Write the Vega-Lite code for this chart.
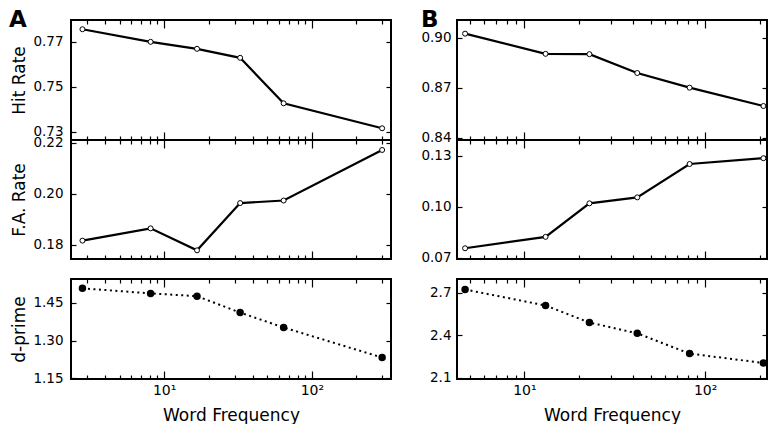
{
  "$schema": "https://vega.github.io/schema/vega-lite/v6.json",
  "padding": {"left": 7, "top": 8, "right": 0, "bottom": 0},
  "background": "white",
  "data": {"values": [
    {"panel": "A", "freq": 2.8, "hit": 0.7755, "fa": 0.1817, "dprime": 1.507},
    {"panel": "A", "freq": 8.1, "hit": 0.7699, "fa": 0.1865, "dprime": 1.487},
    {"panel": "A", "freq": 16.7, "hit": 0.7668, "fa": 0.1779, "dprime": 1.476},
    {"panel": "A", "freq": 32.7, "hit": 0.7628, "fa": 0.1964, "dprime": 1.411},
    {"panel": "A", "freq": 64.4, "hit": 0.7426, "fa": 0.1974, "dprime": 1.352},
    {"panel": "A", "freq": 299, "hit": 0.7315, "fa": 0.2172, "dprime": 1.233},
    {"panel": "B", "freq": 4.7, "hit": 0.9024, "fa": 0.0756, "dprime": 2.723},
    {"panel": "B", "freq": 13.1, "hit": 0.8903, "fa": 0.0823, "dprime": 2.61},
    {"panel": "B", "freq": 22.9, "hit": 0.8901, "fa": 0.102, "dprime": 2.49},
    {"panel": "B", "freq": 42.1, "hit": 0.8788, "fa": 0.1055, "dprime": 2.414},
    {"panel": "B", "freq": 82, "hit": 0.870, "fa": 0.1251, "dprime": 2.271},
    {"panel": "B", "freq": 210, "hit": 0.859, "fa": 0.1285, "dprime": 2.205}
  ]},
  "spacing": 26,
  "hconcat": [
    {
      "spacing": 16,
      "vconcat": [
        {
          "bounds": "flush",
          "spacing": 0,
          "vconcat": [
            {
              "width": 320, "height": 120,
              "title": {"text": "A", "anchor": "start", "frame": "bounds", "fontSize": 23, "fontWeight": "bold", "font": "DejaVu Sans", "color": "black", "offset": -31, "baseline": "alphabetic", "dx": -2},
              "transform": [{"filter": "datum.panel == 'A'"}],
              "resolve": {"axis": {"x": "independent", "y": "independent"}},
              "layer": [
                {"mark": {"type": "line", "color": "black", "strokeWidth": 2.2},
                 "encoding": {
                   "x": {"field": "freq", "type": "quantitative", "scale": {"type": "log", "domain": [2.342, 343.3], "nice": false},
                         "axis": {"orient": "bottom", "values": [3,4,5,6,7,8,9,10,20,30,40,50,60,70,80,90,100,200,300], "labels": false, "title": null, "tickSize": {"condition": {"test": "datum.value == 10 || datum.value == 100", "value": -8}, "value": -4}}},
                   "y": {"field": "hit", "type": "quantitative", "scale": {"domain": [0.7263, 0.7796], "nice": false, "zero": false},
                         "axis": {"orient": "left", "values": [0.73, 0.75, 0.77], "format": ".2f", "title": "Hit Rate", "tickSize": -5, "labelPadding": 13, "titlePadding": 4}}}},
                {"mark": {"type": "point", "filled": true, "fill": "white", "stroke": "black", "strokeWidth": 1, "size": 25, "opacity": 1},
                 "encoding": {
                   "x": {"field": "freq", "type": "quantitative", "scale": {"type": "log", "domain": [2.342, 343.3], "nice": false},
                         "axis": {"orient": "top", "values": [3,4,5,6,7,8,9,10,20,30,40,50,60,70,80,90,100,200,300], "labels": false, "title": null, "tickSize": {"condition": {"test": "datum.value == 10 || datum.value == 100", "value": -8}, "value": -4}}},
                   "y": {"field": "hit", "type": "quantitative", "scale": {"domain": [0.7263, 0.7796], "nice": false, "zero": false},
                         "axis": {"orient": "right", "values": [0.73, 0.75, 0.77], "labels": false, "title": null, "tickSize": -5}}}}
              ]
            },
            {
              "width": 320, "height": 119,
              "transform": [{"filter": "datum.panel == 'A'"}],
              "resolve": {"axis": {"x": "independent", "y": "independent"}},
              "layer": [
                {"mark": {"type": "line", "color": "black", "strokeWidth": 2.2},
                 "encoding": {
                   "x": {"field": "freq", "type": "quantitative", "scale": {"type": "log", "domain": [2.342, 343.3], "nice": false},
                         "axis": {"orient": "bottom", "values": [3,4,5,6,7,8,9,10,20,30,40,50,60,70,80,90,100,200,300], "labels": false, "title": null, "tickSize": {"condition": {"test": "datum.value == 10 || datum.value == 100", "value": -8}, "value": -4}}},
                   "y": {"field": "fa", "type": "quantitative", "scale": {"domain": [0.1745, 0.2211], "nice": false, "zero": false},
                         "axis": {"orient": "left", "values": [0.18, 0.20, 0.22], "format": ".2f", "title": "F.A. Rate", "tickSize": -5, "labelPadding": 13, "titlePadding": 4}}}},
                {"mark": {"type": "point", "filled": true, "fill": "white", "stroke": "black", "strokeWidth": 1, "size": 25, "opacity": 1},
                 "encoding": {
                   "x": {"field": "freq", "type": "quantitative", "scale": {"type": "log", "domain": [2.342, 343.3], "nice": false},
                         "axis": {"orient": "top", "values": [3,4,5,6,7,8,9,10,20,30,40,50,60,70,80,90,100,200,300], "labels": false, "title": null, "tickSize": {"condition": {"test": "datum.value == 10 || datum.value == 100", "value": -8}, "value": -4}}},
                   "y": {"field": "fa", "type": "quantitative", "scale": {"domain": [0.1745, 0.2211], "nice": false, "zero": false},
                         "axis": {"orient": "right", "values": [0.18, 0.20, 0.22], "labels": false, "title": null, "tickSize": -5}}}}
              ]
            }
          ]
        },
        {
          "width": 320, "height": 100,
          "transform": [{"filter": "datum.panel == 'A'"}],
          "resolve": {"axis": {"x": "independent", "y": "independent"}},
          "layer": [
            {"mark": {"type": "line", "color": "black", "strokeWidth": 2, "strokeDash": [2, 3.5]},
             "encoding": {
               "x": {"field": "freq", "type": "quantitative", "scale": {"type": "log", "domain": [2.342, 343.3], "nice": false},
                     "axis": {"orient": "bottom", "values": [3,4,5,6,7,8,9,10,20,30,40,50,60,70,80,90,100,200,300], "labelExpr": "datum.value == 10 ? '10¹' : datum.value == 100 ? '10²' : ''", "labelOverlap": false, "labelFlush": false, "labelPadding": 12, "labelFontSize": 14, "title": "Word Frequency", "titlePadding": 6, "tickSize": {"condition": {"test": "datum.value == 10 || datum.value == 100", "value": -8}, "value": -4}}},
               "y": {"field": "dprime", "type": "quantitative", "scale": {"domain": [1.148, 1.544], "nice": false, "zero": false},
                     "axis": {"orient": "left", "values": [1.15, 1.30, 1.45], "format": ".2f", "title": "d-prime", "tickSize": -5, "labelPadding": 13, "titlePadding": 4}}}},
            {"mark": {"type": "point", "filled": true, "fill": "black", "stroke": "black", "size": 30, "opacity": 1},
             "encoding": {
               "x": {"field": "freq", "type": "quantitative", "scale": {"type": "log", "domain": [2.342, 343.3], "nice": false},
                     "axis": {"orient": "top", "values": [3,4,5,6,7,8,9,10,20,30,40,50,60,70,80,90,100,200,300], "labels": false, "title": null, "tickSize": {"condition": {"test": "datum.value == 10 || datum.value == 100", "value": -8}, "value": -4}}},
               "y": {"field": "dprime", "type": "quantitative", "scale": {"domain": [1.148, 1.544], "nice": false, "zero": false},
                     "axis": {"orient": "right", "values": [1.15, 1.30, 1.45], "labels": false, "title": null, "tickSize": -5}}}}
          ]
        }
      ]
    },
    {
      "spacing": 11,
      "vconcat": [
        {
          "bounds": "flush",
          "spacing": 0,
          "vconcat": [
            {
              "width": 310, "height": 120,
              "title": {"text": "B", "anchor": "start", "frame": "bounds", "fontSize": 23, "fontWeight": "bold", "font": "DejaVu Sans", "color": "black", "offset": -31, "baseline": "alphabetic", "dx": 0},
              "transform": [{"filter": "datum.panel == 'B'"}],
              "resolve": {"axis": {"x": "independent", "y": "independent"}},
              "layer": [
                {"mark": {"type": "line", "color": "black", "strokeWidth": 2.2},
                 "encoding": {
                   "x": {"field": "freq", "type": "quantitative", "scale": {"type": "log", "domain": [4.24, 219.8], "nice": false},
                         "axis": {"orient": "bottom", "values": [5,6,7,8,9,10,20,30,40,50,60,70,80,90,100,200], "labels": false, "title": null, "tickSize": {"condition": {"test": "datum.value == 10 || datum.value == 100", "value": -8}, "value": -4}}},
                   "y": {"field": "hit", "type": "quantitative", "scale": {"domain": [0.8386, 0.9106], "nice": false, "zero": false},
                         "axis": {"orient": "left", "values": [0.84, 0.87, 0.90], "format": ".2f", "title": null, "tickSize": -5, "labelPadding": 11}}}},
                {"mark": {"type": "point", "filled": true, "fill": "white", "stroke": "black", "strokeWidth": 1, "size": 25, "opacity": 1},
                 "encoding": {
                   "x": {"field": "freq", "type": "quantitative", "scale": {"type": "log", "domain": [4.24, 219.8], "nice": false},
                         "axis": {"orient": "top", "values": [5,6,7,8,9,10,20,30,40,50,60,70,80,90,100,200], "labels": false, "title": null, "tickSize": {"condition": {"test": "datum.value == 10 || datum.value == 100", "value": -8}, "value": -4}}},
                   "y": {"field": "hit", "type": "quantitative", "scale": {"domain": [0.8386, 0.9106], "nice": false, "zero": false},
                         "axis": {"orient": "right", "values": [0.84, 0.87, 0.90], "labels": false, "title": null, "tickSize": -5}}}}
              ]
            },
            {
              "width": 310, "height": 119,
              "transform": [{"filter": "datum.panel == 'B'"}],
              "resolve": {"axis": {"x": "independent", "y": "independent"}},
              "layer": [
                {"mark": {"type": "line", "color": "black", "strokeWidth": 2.2},
                 "encoding": {
                   "x": {"field": "freq", "type": "quantitative", "scale": {"type": "log", "domain": [4.24, 219.8], "nice": false},
                         "axis": {"orient": "bottom", "values": [5,6,7,8,9,10,20,30,40,50,60,70,80,90,100,200], "labels": false, "title": null, "tickSize": {"condition": {"test": "datum.value == 10 || datum.value == 100", "value": -8}, "value": -4}}},
                   "y": {"field": "fa", "type": "quantitative", "scale": {"domain": [0.0693, 0.1392], "nice": false, "zero": false},
                         "axis": {"orient": "left", "values": [0.07, 0.10, 0.13], "format": ".2f", "title": null, "tickSize": -5, "labelPadding": 11}}}},
                {"mark": {"type": "point", "filled": true, "fill": "white", "stroke": "black", "strokeWidth": 1, "size": 25, "opacity": 1},
                 "encoding": {
                   "x": {"field": "freq", "type": "quantitative", "scale": {"type": "log", "domain": [4.24, 219.8], "nice": false},
                         "axis": {"orient": "top", "values": [5,6,7,8,9,10,20,30,40,50,60,70,80,90,100,200], "labels": false, "title": null, "tickSize": {"condition": {"test": "datum.value == 10 || datum.value == 100", "value": -8}, "value": -4}}},
                   "y": {"field": "fa", "type": "quantitative", "scale": {"domain": [0.0693, 0.1392], "nice": false, "zero": false},
                         "axis": {"orient": "right", "values": [0.07, 0.10, 0.13], "labels": false, "title": null, "tickSize": -5}}}}
              ]
            }
          ]
        },
        {
          "width": 310, "height": 100,
          "transform": [{"filter": "datum.panel == 'B'"}],
          "resolve": {"axis": {"x": "independent", "y": "independent"}},
          "layer": [
            {"mark": {"type": "line", "color": "black", "strokeWidth": 2, "strokeDash": [2, 3.5]},
             "encoding": {
               "x": {"field": "freq", "type": "quantitative", "scale": {"type": "log", "domain": [4.24, 219.8], "nice": false},
                     "axis": {"orient": "bottom", "values": [5,6,7,8,9,10,20,30,40,50,60,70,80,90,100,200], "labelExpr": "datum.value == 10 ? '10¹' : datum.value == 100 ? '10²' : ''", "labelOverlap": false, "labelFlush": false, "labelPadding": 12, "labelFontSize": 14, "title": "Word Frequency", "titlePadding": 6, "tickSize": {"condition": {"test": "datum.value == 10 || datum.value == 100", "value": -8}, "value": -4}}},
               "y": {"field": "dprime", "type": "quantitative", "scale": {"domain": [2.092, 2.797], "nice": false, "zero": false},
                     "axis": {"orient": "left", "values": [2.1, 2.4, 2.7], "format": ".1f", "title": null, "tickSize": -5, "labelPadding": 11}}}},
            {"mark": {"type": "point", "filled": true, "fill": "black", "stroke": "black", "size": 30, "opacity": 1},
             "encoding": {
               "x": {"field": "freq", "type": "quantitative", "scale": {"type": "log", "domain": [4.24, 219.8], "nice": false},
                     "axis": {"orient": "top", "values": [5,6,7,8,9,10,20,30,40,50,60,70,80,90,100,200], "labels": false, "title": null, "tickSize": {"condition": {"test": "datum.value == 10 || datum.value == 100", "value": -8}, "value": -4}}},
               "y": {"field": "dprime", "type": "quantitative", "scale": {"domain": [2.092, 2.797], "nice": false, "zero": false},
                     "axis": {"orient": "right", "values": [2.1, 2.4, 2.7], "labels": false, "title": null, "tickSize": -5}}}}
          ]
        }
      ]
    }
  ],
  "config": {
    "font": "DejaVu Sans",
    "view": {"stroke": "black", "strokeWidth": 2},
    "axis": {"grid": false, "domain": false, "tickColor": "black", "tickWidth": 1.2, "labelColor": "black", "titleColor": "black", "labelFont": "DejaVu Sans", "titleFont": "DejaVu Sans", "labelFontSize": 13.5, "titleFontSize": 17, "titleFontWeight": "normal"}
  }
}
